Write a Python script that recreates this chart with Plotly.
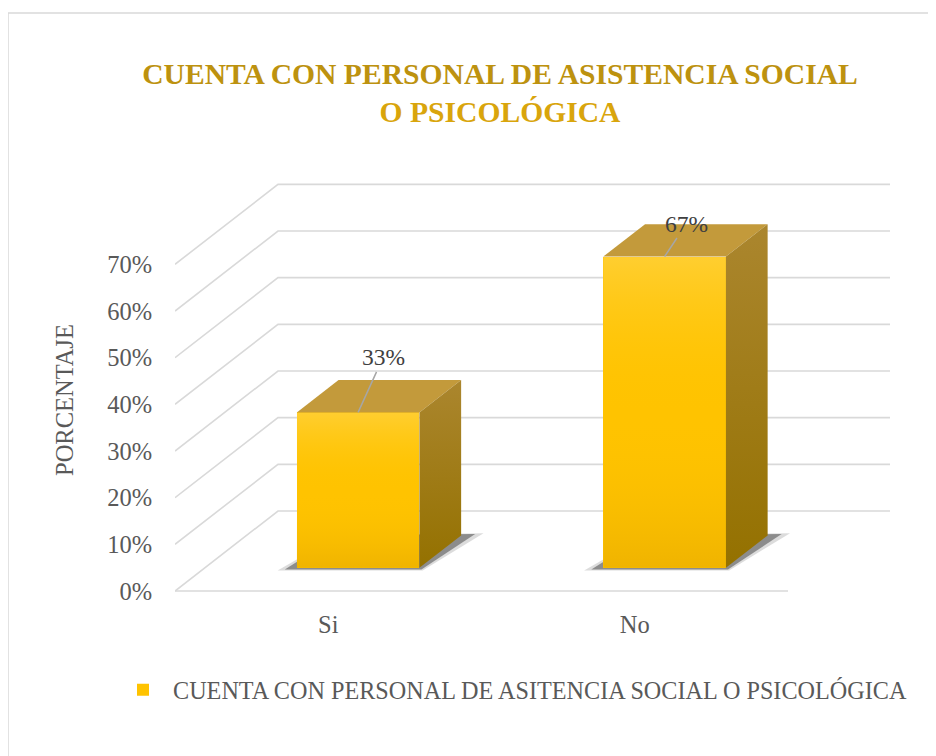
import plotly.graph_objects as go

# Datos del grafico
categorias = ["Si", "No"]
porcentajes = [33.3, 66.7]
etiquetas = ["33%", "67%"]
ticks_y = [0, 10, 20, 30, 40, 50, 60, 70]
ticks_y_texto = ["0%", "10%", "20%", "30%", "40%", "50%", "60%", "70%"]
serie = "CUENTA CON PERSONAL DE ASITENCIA SOCIAL O PSICOLÓGICA"
titulo_1 = "CUENTA CON PERSONAL DE ASISTENCIA SOCIAL"
titulo_2 = "O PSICOLÓGICA"

# Geometria de la vista 3D (x en unidades de pixel, y en %)
PX = 420 / 90            # pixeles por punto porcentual
ANCHO_X = 715
PISO_X = 613             # largo del borde frontal del piso
PROF_DX = 103            # profundidad total (horizontal)
PROF_DY = 80 / PX        # profundidad total (vertical, en %)
CAT_W = PISO_X / len(categorias)
BAR_W = 0.4 * CAT_W
Z0, Z1 = 0.29, 0.695     # frente y fondo de las barras (fraccion de la profundidad)

dx0, dy0 = Z0 * PROF_DX, Z0 * PROF_DY
ddx, ddy = (Z1 - Z0) * PROF_DX, (Z1 - Z0) * PROF_DY

centros = [CAT_W * (i + 0.5) + dx0 for i in range(len(categorias))]
centros_eje = [CAT_W * (i + 0.5) for i in range(len(categorias))]

FUENTE = "Liberation Serif"
GRIS_TXT = "#595959"
GRIS_GRID = "#D9D9D9"

fig = go.Figure()

# Barras (cara frontal)
fig.add_trace(go.Bar(
    x=centros,
    y=porcentajes,
    base=dy0,
    width=BAR_W,
    name=serie,
    marker=dict(color="#FFC300", line=dict(width=0)),
    hoverinfo="skip",
))

for i, v in enumerate(porcentajes):
    xl = centros[i] - BAR_W / 2
    xr = centros[i] + BAR_W / 2
    top = dy0 + v
    # degradado sobre la cara frontal
    fig.add_trace(go.Scatter(
        x=[xl, xr, xr, xl, xl], y=[dy0, dy0, top, top, dy0],
        fill="toself", mode="lines", line=dict(width=0),
        fillgradient=dict(type="vertical",
                          colorscale=[[0, "rgba(200,140,0,0.28)"],
                                      [0.5, "rgba(255,200,0,0)"],
                                      [1, "rgba(255,232,160,0.3)"]]),
        showlegend=False, hoverinfo="skip"))
    # cara superior
    fig.add_trace(go.Scatter(
        x=[xl, xr, xr + ddx, xl + ddx, xl], y=[top, top, top + ddy, top + ddy, top],
        fill="toself", mode="lines", line=dict(width=0),
        fillcolor="#C39A3B", showlegend=False, hoverinfo="skip"))
    # cara lateral
    fig.add_trace(go.Scatter(
        x=[xr, xr + ddx, xr + ddx, xr, xr], y=[dy0, dy0 + ddy, top + ddy, top, dy0],
        fill="toself", mode="lines", line=dict(width=0),
        fillgradient=dict(type="vertical",
                          colorscale=[[0, "#947100"], [1, "#AB862E"]]),
        showlegend=False, hoverinfo="skip"))

# Cuadricula en perspectiva
shapes = []
for t in ticks_y:
    shapes.append(dict(
        type="path", xref="x", yref="y", layer="below",
        path=f"M 0,{t} L {PROF_DX},{t + PROF_DY} L {ANCHO_X},{t + PROF_DY}",
        line=dict(color=GRIS_GRID, width=1.6)))
shapes.append(dict(
    type="line", xref="x", yref="y", layer="below",
    x0=0, y0=0, x1=PISO_X, y1=0,
    line=dict(color=GRIS_GRID, width=1.6)))

# Sombras de las barras sobre el piso
for i, v in enumerate(porcentajes):
    xl = centros[i] - BAR_W / 2
    xr = centros[i] + BAR_W / 2
    for grow, alpha in [(1.6, 0.18), (1.0, 0.5)]:
        shapes.append(dict(
            type="path", xref="x", yref="y", layer="below",
            path=(f"M {xl - 12 * grow},{dy0 - 0.35 * grow} "
                  f"L {xr + 2 * grow},{dy0 - 0.35 * grow} "
                  f"L {xr + ddx + 14 * grow},{dy0 + ddy + 0.3 * grow} "
                  f"L {xl + ddx},{dy0 + ddy} Z"),
            fillcolor=f"rgba(60,60,60,{alpha})", line=dict(width=0)))

# Borde exterior del grafico
shapes.append(dict(
    type="rect", xref="paper", yref="paper", layer="below",
    x0=(8 - 175) / 715, x1=1.2, y0=-0.6, y1=(598 - 13) / 420,
    line=dict(color=GRIS_GRID, width=1.5), fillcolor="rgba(0,0,0,0)"))

# Etiquetas de datos con lineas guia
offsets = [(25, -55), (22, -33)]
annotations = []
for i, v in enumerate(porcentajes):
    annotations.append(dict(
        x=centros[i], y=dy0 + v, xref="x", yref="y",
        text=etiquetas[i], showarrow=True,
        ax=offsets[i][0], ay=offsets[i][1],
        arrowhead=0, arrowwidth=1.5, arrowcolor="#A6A6A6", standoff=0,
        font=dict(family=FUENTE, size=23.5, color="#404040")))

# Titulo del eje Y
annotations.append(dict(
    x=(64 - 175) / 715, y=(598 - 400) / 420, xref="paper", yref="paper",
    xanchor="center", yanchor="middle",
    text="PORCENTAJE", textangle=-90, showarrow=False,
    font=dict(family=FUENTE, size=24.5, color=GRIS_TXT)))

fig.update_xaxes(
    range=[0, ANCHO_X],
    tickvals=centros_eje,
    ticktext=categorias,
    showgrid=False, zeroline=False, showline=False,
    ticks="outside", ticklen=5, tickcolor="rgba(0,0,0,0)",
    tickfont=dict(family=FUENTE, size=24.5, color=GRIS_TXT),
    fixedrange=True,
)

fig.update_yaxes(
    range=[-1.5, 88.5],
    tickvals=ticks_y,
    ticktext=ticks_y_texto,
    showgrid=False, zeroline=False, showline=False,
    ticks="outside", ticklen=17, tickcolor="rgba(0,0,0,0)",
    tickfont=dict(family=FUENTE, size=24.5, color=GRIS_TXT),
    fixedrange=True,
)

fig.update_layout(
    width=928,
    height=748,
    margin=dict(l=167, r=46, t=170, b=158),
    paper_bgcolor="white",
    plot_bgcolor="white",
    title=dict(
        text=(f"<b><span style='color:#BD920F'>{titulo_1}</span><br>"
              f"<span style='color:#D9A50C'>{titulo_2}</span></b>"),
        x=492 / 928, xanchor="center",
        y=1 - 76 / 748, yanchor="middle",
        font=dict(family=FUENTE, size=29.6),
    ),
    showlegend=True,
    legend=dict(
        orientation="h",
        x=(113 - 175) / 715, xanchor="left",
        y=(598 - 690) / 420, yanchor="middle",
        itemwidth=50,
        font=dict(family=FUENTE, size=24.2, color=GRIS_TXT),
        bgcolor="rgba(0,0,0,0)",
    ),
    shapes=shapes,
    annotations=annotations,
    bargap=0,
)

fig.write_html("out.html")
